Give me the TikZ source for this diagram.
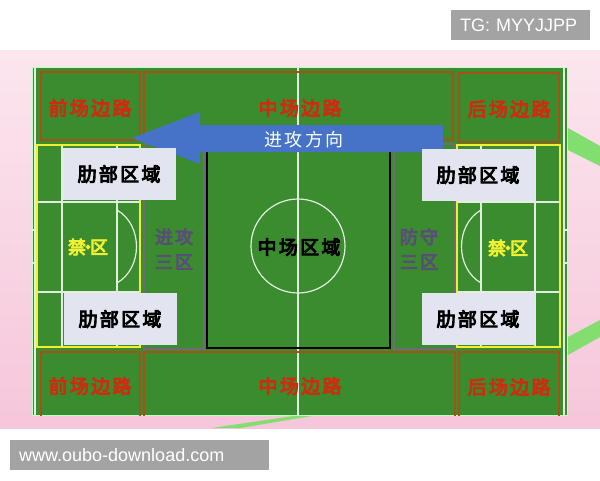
\documentclass[tikz,border=0pt]{standalone}
\usepackage{fontspec}
\newfontfamily\cjk[LetterSpace=12]{Noto Sans CJK SC}
\newfontfamily\cjkb[LetterSpace=12,FakeBold=5]{Noto Sans CJK SC}
\newfontfamily\wmfont{Liberation Sans}
\definecolor{pitch}{RGB}{58,140,46}
\definecolor{edgebrown}{RGB}{165,82,25}
\definecolor{wingred}{RGB}{205,45,15}
\definecolor{zonegray}{RGB}{110,108,120}
\definecolor{zonetext}{RGB}{90,78,118}
\definecolor{ribfill}{RGB}{226,229,240}
\definecolor{boxyellow}{RGB}{240,240,50}
\definecolor{arrowblue}{RGB}{70,115,200}
\definecolor{pinkbg}{RGB}{246,198,218}
\definecolor{pinktop}{RGB}{251,230,238}
\definecolor{stripe}{RGB}{130,222,110}
\definecolor{markgray}{RGB}{163,163,163}

\begin{document}
\begin{tikzpicture}[x=1pt,y=-1pt,
    wing/.style={draw=edgebrown,line width=2.5pt},
    winglabel/.style={text=wingred,font=\cjkb\fontsize{19}{19}\selectfont},
    third/.style={draw=zonegray,line width=2.5pt},
    thirdlabel/.style={text=zonetext,align=center,font=\cjkb\fontsize{18}{25}\selectfont},
    pline/.style={draw=white!85!pitch,line width=1.2pt},
    yellowbox/.style={draw=boxyellow,line width=2pt},
    banlabel/.style={text=boxyellow,font=\cjkb\fontsize{18}{18}\selectfont},
    ribbox/.style={fill=ribfill,minimum width=113pt,minimum height=52pt,inner sep=0pt,
      font=\cjkb\fontsize{19}{19}\selectfont},
    markbox/.style={fill=markgray,text=white,anchor=west,inner sep=0pt,
      minimum height=30pt,font=\wmfont\fontsize{18}{18}\selectfont}]
    \useasboundingbox (0,0) rectangle (600,480);
    \fill [white] (0,0) rectangle (600,480);
    \shade [top color=pinktop,bottom color=pinkbg] (0,50) rectangle (600,428);
    \fill [stripe] (568,128) -- (600,146) -- (600,166) -- (568,150) -- cycle;
    \fill [stripe] (568,337) -- (600,320) -- (600,337) -- (568,355) -- cycle;
    \fill [stripe] (212,428) -- (300,415) -- (318,415) -- (240,428) -- cycle;
    % pitch
    \fill [pitch] (32,67) rectangle (568,415);
    \draw [green!25!white,line width=1pt] (32.5,67.5) rectangle (567.5,415);
    \begin{scope}
        \clip (32,67) rectangle (568,415);
        \draw [pline] (35,67) -- (35,415);
        \draw [pline] (564,67) -- (564,415);
        \draw [pline] (32,230) -- (35,230);
        \draw [pline] (32,263) -- (35,263);
        \draw [pline] (564,230) -- (568,230);
        \draw [pline] (564,263) -- (568,263);
        \draw [pline] (298,67) -- (298,415);
        \draw [pline] (298,246) circle [radius=47];
        % wings
        \draw [wing] (41,72) rectangle (140,140);
        \draw [wing] (144,72) rectangle (453,140);
        \draw [wing] (459,73) rectangle (559,142);
        \draw [wing] (41,352) rectangle (140,430);
        \draw [wing] (144,352) rectangle (455,430);
        \draw [wing] (459,352) rectangle (559,430);
    \end{scope}
    % thirds
    \draw [third] (144,144) rectangle (204,349);
    \draw [third] (394,144) rectangle (455,349);
    \draw [black,line width=1.8pt] (207,144) rectangle (390,348);
    % boxes
    \draw [pline] (62,145) -- (62,347);
    \draw [pline] (117,145) -- (117,347);
    \draw [pline] (37,202) -- (140,202);
    \draw [pline] (37,292) -- (140,292);
    \draw [pline] (117,210) .. controls (143,225) and (143,268) .. (117,283);
    \draw [pline] (481,145) -- (481,347);
    \draw [pline] (535,145) -- (535,347);
    \draw [pline] (457,202) -- (560,202);
    \draw [pline] (457,292) -- (560,292);
    \draw [pline] (481,210) .. controls (455,225) and (455,268) .. (481,283);
    \draw [yellowbox] (37,145) rectangle (140,347);
    \draw [yellowbox] (457,145) rectangle (560,347);
    % arrow
    \fill [arrowblue] (443,125) -- (200,125) -- (200,112) -- (132,138)
        -- (200,164) -- (200,152) -- (443,152) -- cycle;
    \node [text=white,font=\cjk\fontsize{18}{18}\selectfont] (attack) at (304,140) {进攻方向};
    % labels
    \node [winglabel] (frontTop) at (90,108) {前场边路};
    \node [winglabel] (midTop) at (300,108) {中场边路};
    \node [winglabel] (backTop) at (509,109) {后场边路};
    \node [winglabel] (frontBot) at (90,386) {前场边路};
    \node [winglabel] (midBot) at (300,386) {中场边路};
    \node [winglabel] (backBot) at (509,387) {后场边路};
    \node [ribbox] (ribLT) at (119,174) {肋部区域};
    \node [ribbox] (ribLB) at (120,319) {肋部区域};
    \node [ribbox] (ribRT) at (478,175) {肋部区域};
    \node [ribbox] (ribRB) at (478,319) {肋部区域};
    \node [banlabel] (banL) at (88,247) {禁\kern-7pt·\kern-7pt区};
    \node [banlabel] (banR) at (508,248) {禁\kern-7pt·\kern-7pt区};
    \node [thirdlabel] (attackThird) at (174,249) {进攻\\三区};
    \node [thirdlabel] (defendThird) at (419,249) {防守\\三区};
    \node [font=\cjkb\fontsize{19}{19}\selectfont] (midZone) at (299,247) {中场区域};
    % watermarks
    \node [markbox,minimum width=139pt,text width=133pt] (tg) at (451,25) {\hspace*{6pt}TG: MYYJJPP};
    \node [markbox,minimum width=259pt,text width=253pt] (site) at (10,455) {\hspace*{6pt}www.oubo-download.com};
\end{tikzpicture}
\end{document}
